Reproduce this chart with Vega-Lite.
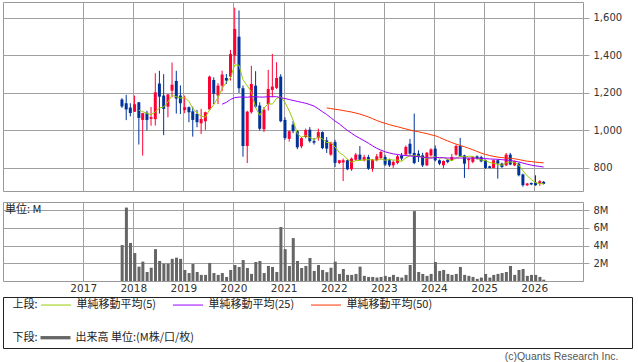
{
  "$schema": "https://vega.github.io/schema/vega-lite/v6.json",
  "padding": {"left": 2, "top": 1, "right": 0, "bottom": 0},
  "background": "white",
  "config": {
    "view": {"stroke": "#999999", "strokeWidth": 1},
    "axis": {"domain": false, "gridColor": "#a0a0a0", "gridOpacity": 1, "tickColor": "#a0a0a0", "labelColor": "#333333", "labelFont": "DejaVu Sans", "labelFontSize": 10},
    "title": {"font": "Noto Sans CJK JP", "fontWeight": "normal", "color": "#222222"},
    "legend": {"padding": 0, "titleFont": "Noto Sans CJK JP", "titleFontSize": 11, "titleFontWeight": "normal", "titleColor": "#222222", "labelFont": "Noto Sans CJK JP", "labelFontSize": 11, "labelColor": "#222222", "labelLimit": 300}
  },
  "title": {"text": "(c)Quants Research Inc.", "orient": "bottom", "anchor": "end", "font": "Liberation Sans", "fontSize": 10.5, "fontWeight": "normal", "color": "#555555", "offset": 3.5, "dx": -14},
  "datasets": {
    "m": [
      {"d":"2017-10","o":1165,"h":1172,"l":1120,"c":1128,"v":4.06},
      {"d":"2017-11","o":1145,"h":1190,"l":1055,"c":1112,"v":8.3},
      {"d":"2017-12","o":1122,"h":1145,"l":1075,"c":1093,"v":4.3},
      {"d":"2018-01","o":1100,"h":1186,"l":1098,"c":1140,"v":3.16},
      {"d":"2018-02","o":1150,"h":1152,"l":925,"c":1067,"v":1.62,"ma5":1108},
      {"d":"2018-03","o":1056,"h":1094,"l":866,"c":1092,"v":2.19,"ma5":1101},
      {"d":"2018-04","o":1094,"h":1105,"l":1000,"c":1056,"v":1.02,"ma5":1090},
      {"d":"2018-05","o":1062,"h":1125,"l":1025,"c":1071,"v":1.5,"ma5":1085},
      {"d":"2018-06","o":1060,"h":1305,"l":1026,"c":1203,"v":3.6,"ma5":1098},
      {"d":"2018-07","o":1250,"h":1318,"l":1090,"c":1180,"v":2.26,"ma5":1120},
      {"d":"2018-08","o":1186,"h":1300,"l":975,"c":1115,"v":1.96,"ma5":1125},
      {"d":"2018-09","o":1127,"h":1195,"l":1070,"c":1192,"v":1.96,"ma5":1152},
      {"d":"2018-10","o":1212,"h":1362,"l":1177,"c":1244,"v":2.5,"ma5":1187},
      {"d":"2018-11","o":1264,"h":1318,"l":1090,"c":1170,"v":2.64,"ma5":1180},
      {"d":"2018-12","o":1186,"h":1240,"l":1088,"c":1145,"v":2.5,"ma5":1173},
      {"d":"2019-01","o":1109,"h":1186,"l":1092,"c":1124,"v":1.25,"ma5":1175},
      {"d":"2019-02","o":1124,"h":1128,"l":1044,"c":1097,"v":0.9,"ma5":1156},
      {"d":"2019-03","o":1102,"h":1127,"l":967,"c":1056,"v":1.93,"ma5":1118},
      {"d":"2019-04","o":1088,"h":1109,"l":1017,"c":1044,"v":1.02,"ma5":1093},
      {"d":"2019-05","o":1038,"h":1115,"l":981,"c":1061,"v":0.69,"ma5":1076},
      {"d":"2019-06","o":1049,"h":1100,"l":1003,"c":1097,"v":0.69,"ma5":1071},
      {"d":"2019-07","o":1112,"h":1292,"l":1106,"c":1287,"v":2.04,"ma5":1109},
      {"d":"2019-08","o":1269,"h":1283,"l":1141,"c":1195,"v":0.9,"ma5":1137},
      {"d":"2019-09","o":1186,"h":1252,"l":1141,"c":1239,"v":0.69,"ma5":1176},
      {"d":"2019-10","o":1239,"h":1319,"l":1209,"c":1298,"v":0.9,"ma5":1223,"ma25":1140},
      {"d":"2019-11","o":1280,"h":1301,"l":1248,"c":1266,"v":0.46,"ma5":1257,"ma25":1150},
      {"d":"2019-12","o":1287,"h":1429,"l":1266,"c":1408,"v":1.25,"ma5":1281,"ma25":1165},
      {"d":"2020-01","o":1399,"h":1655,"l":1355,"c":1541,"v":1.81,"ma5":1350,"ma25":1175},
      {"d":"2020-02","o":1500,"h":1640,"l":1200,"c":1225,"v":1.59,"ma5":1348,"ma25":1178},
      {"d":"2020-03","o":1225,"h":1240,"l":860,"c":917,"v":2.37,"ma5":1271,"ma25":1178},
      {"d":"2020-04","o":917,"h":1105,"l":826,"c":1100,"v":1.47,"ma5":1238,"ma25":1177},
      {"d":"2020-05","o":1097,"h":1345,"l":1090,"c":1248,"v":0.8,"ma5":1206,"ma25":1180},
      {"d":"2020-06","o":1239,"h":1316,"l":1120,"c":1127,"v":2.15,"ma5":1123,"ma25":1180},
      {"d":"2020-07","o":1133,"h":1150,"l":1000,"c":1009,"v":2.26,"ma5":1080,"ma25":1178},
      {"d":"2020-08","o":1006,"h":1125,"l":992,"c":1111,"v":0.9,"ma5":1119,"ma25":1178},
      {"d":"2020-09","o":1141,"h":1323,"l":1106,"c":1221,"v":1.7,"ma5":1143,"ma25":1180},
      {"d":"2020-10","o":1216,"h":1408,"l":1177,"c":1234,"v":1.59,"ma5":1140,"ma25":1180},
      {"d":"2020-11","o":1227,"h":1364,"l":1221,"c":1280,"v":1.02,"ma5":1171,"ma25":1180},
      {"d":"2020-12","o":1287,"h":1300,"l":1044,"c":1049,"v":6.1,"ma5":1179,"ma25":1175},
      {"d":"2021-01","o":1056,"h":1070,"l":950,"c":960,"v":3.6,"ma5":1149,"ma25":1170},
      {"d":"2021-02","o":955,"h":1000,"l":940,"c":996,"v":1.7,"ma5":1104,"ma25":1165},
      {"d":"2021-03","o":1031,"h":1050,"l":985,"c":996,"v":4.85,"ma5":1056,"ma25":1160},
      {"d":"2021-04","o":996,"h":1000,"l":900,"c":910,"v":2.26,"ma5":982,"ma25":1155},
      {"d":"2021-05","o":915,"h":965,"l":905,"c":959,"v":1.47,"ma5":964,"ma25":1150},
      {"d":"2021-06","o":965,"h":1010,"l":958,"c":1002,"v":1.7,"ma5":973,"ma25":1145},
      {"d":"2021-07","o":1004,"h":1018,"l":935,"c":943,"v":2.6,"ma5":962,"ma25":1138},
      {"d":"2021-08","o":943,"h":960,"l":925,"c":935,"v":1.14,"ma5":950,"ma25":1130},
      {"d":"2021-09","o":959,"h":1010,"l":945,"c":991,"v":1.81,"ma5":966,"ma25":1115},
      {"d":"2021-10","o":991,"h":995,"l":900,"c":906,"v":1.25,"ma5":955,"ma25":1100},
      {"d":"2021-11","o":947,"h":965,"l":880,"c":903,"v":1.0,"ma5":936,"ma25":1085,"ma50":1120},
      {"d":"2021-12","o":871,"h":940,"l":865,"c":935,"v":1.5,"ma5":934,"ma25":1068,"ma50":1117},
      {"d":"2022-01","o":938,"h":950,"l":805,"c":827,"v":2.19,"ma5":912,"ma25":1050,"ma50":1113},
      {"d":"2022-02","o":827,"h":843,"l":820,"c":841,"v":0.8,"ma5":882,"ma25":1035,"ma50":1110},
      {"d":"2022-03","o":829,"h":850,"l":730,"c":841,"v":1.36,"ma5":869,"ma25":1018,"ma50":1106},
      {"d":"2022-04","o":841,"h":845,"l":788,"c":793,"v":0.69,"ma5":847,"ma25":1000,"ma50":1102},
      {"d":"2022-05","o":793,"h":855,"l":785,"c":850,"v":0.69,"ma5":830,"ma25":985,"ma50":1098},
      {"d":"2022-06","o":844,"h":880,"l":838,"c":871,"v":0.8,"ma5":839,"ma25":970,"ma50":1093},
      {"d":"2022-07","o":871,"h":917,"l":840,"c":844,"v":1.62,"ma5":840,"ma25":958,"ma50":1087},
      {"d":"2022-08","o":841,"h":870,"l":835,"c":858,"v":0.58,"ma5":843,"ma25":945,"ma50":1080},
      {"d":"2022-09","o":858,"h":870,"l":790,"c":796,"v":0.46,"ma5":844,"ma25":932,"ma50":1072},
      {"d":"2022-10","o":796,"h":848,"l":780,"c":844,"v":0.46,"ma5":843,"ma25":918,"ma50":1063},
      {"d":"2022-11","o":841,"h":875,"l":835,"c":862,"v":0.39,"ma5":841,"ma25":905,"ma50":1053},
      {"d":"2022-12","o":853,"h":890,"l":845,"c":885,"v":0.46,"ma5":849,"ma25":895,"ma50":1045},
      {"d":"2023-01","o":858,"h":870,"l":810,"c":818,"v":0.58,"ma5":841,"ma25":886,"ma50":1038},
      {"d":"2023-02","o":841,"h":850,"l":805,"c":814,"v":0.46,"ma5":845,"ma25":880,"ma50":1031},
      {"d":"2023-03","o":814,"h":840,"l":800,"c":832,"v":0.69,"ma5":842,"ma25":875,"ma50":1025},
      {"d":"2023-04","o":827,"h":870,"l":820,"c":862,"v":0.46,"ma5":842,"ma25":872,"ma50":1020},
      {"d":"2023-05","o":867,"h":880,"l":840,"c":850,"v":0.39,"ma5":835,"ma25":868,"ma50":1014},
      {"d":"2023-06","o":871,"h":920,"l":865,"c":912,"v":0.69,"ma5":854,"ma25":866,"ma50":1008},
      {"d":"2023-07","o":929,"h":955,"l":870,"c":876,"v":1.81,"ma5":866,"ma25":864,"ma50":1002},
      {"d":"2023-08","o":880,"h":1090,"l":820,"c":826,"v":7.9,"ma5":865,"ma25":862,"ma50":997},
      {"d":"2023-09","o":876,"h":894,"l":832,"c":858,"v":1.02,"ma5":864,"ma25":860,"ma50":993},
      {"d":"2023-10","o":867,"h":881,"l":805,"c":814,"v":0.8,"ma5":857,"ma25":858,"ma50":988},
      {"d":"2023-11","o":814,"h":885,"l":810,"c":881,"v":0.58,"ma5":851,"ma25":855,"ma50":983},
      {"d":"2023-12","o":867,"h":905,"l":860,"c":899,"v":0.8,"ma5":856,"ma25":852,"ma50":977},
      {"d":"2024-01","o":903,"h":920,"l":835,"c":841,"v":2.15,"ma5":859,"ma25":856,"ma50":972},
      {"d":"2024-02","o":841,"h":845,"l":815,"c":823,"v":1.14,"ma5":852,"ma25":855,"ma50":963},
      {"d":"2024-03","o":814,"h":840,"l":797,"c":837,"v":1.25,"ma5":856,"ma25":854,"ma50":953},
      {"d":"2024-04","o":844,"h":848,"l":825,"c":832,"v":0.8,"ma5":846,"ma25":853,"ma50":944},
      {"d":"2024-05","o":841,"h":875,"l":838,"c":858,"v":0.69,"ma5":838,"ma25":853,"ma50":935},
      {"d":"2024-06","o":871,"h":925,"l":865,"c":917,"v":0.8,"ma5":853,"ma25":853,"ma50":927},
      {"d":"2024-07","o":917,"h":960,"l":858,"c":864,"v":1.59,"ma5":862,"ma25":853,"ma50":920},
      {"d":"2024-08","o":867,"h":870,"l":747,"c":823,"v":0.69,"ma5":859,"ma25":853,"ma50":913},
      {"d":"2024-09","o":841,"h":853,"l":793,"c":850,"v":0.58,"ma5":862,"ma25":853,"ma50":905},
      {"d":"2024-10","o":832,"h":862,"l":825,"c":858,"v":0.46,"ma5":862,"ma25":852,"ma50":897},
      {"d":"2024-11","o":862,"h":867,"l":845,"c":850,"v":0.24,"ma5":849,"ma25":852,"ma50":888},
      {"d":"2024-12","o":858,"h":865,"l":830,"c":835,"v":0.39,"ma5":843,"ma25":852,"ma50":879},
      {"d":"2025-01","o":841,"h":845,"l":795,"c":800,"v":0.8,"ma5":839,"ma25":850,"ma50":872},
      {"d":"2025-02","o":809,"h":812,"l":798,"c":800,"v":0.39,"ma5":829,"ma25":848,"ma50":866},
      {"d":"2025-03","o":800,"h":845,"l":798,"c":841,"v":0.69,"ma5":825,"ma25":847,"ma50":862},
      {"d":"2025-04","o":841,"h":845,"l":743,"c":823,"v":0.8,"ma5":820,"ma25":846,"ma50":858},
      {"d":"2025-05","o":823,"h":828,"l":800,"c":805,"v":0.9,"ma5":814,"ma25":844,"ma50":855},
      {"d":"2025-06","o":814,"h":880,"l":810,"c":871,"v":1.02,"ma5":828,"ma25":842,"ma50":853},
      {"d":"2025-07","o":871,"h":880,"l":815,"c":818,"v":1.7,"ma5":832,"ma25":840,"ma50":851},
      {"d":"2025-08","o":814,"h":840,"l":810,"c":835,"v":0.69,"ma5":830,"ma25":836,"ma50":849},
      {"d":"2025-09","o":823,"h":830,"l":755,"c":761,"v":1.25,"ma5":815,"ma25":832,"ma50":845},
      {"d":"2025-10","o":765,"h":770,"l":700,"c":708,"v":1.36,"ma5":785,"ma25":826,"ma50":840},
      {"d":"2025-11","o":708,"h":720,"l":703,"c":717,"v":0.58,"ma5":758,"ma25":820,"ma50":836},
      {"d":"2025-12","o":720,"h":722,"l":708,"c":712,"v":0.69,"ma5":738,"ma25":815,"ma50":834},
      {"d":"2026-01","o":722,"h":761,"l":705,"c":708,"v":0.69,"ma5":722,"ma25":811,"ma50":831},
      {"d":"2026-02","o":717,"h":735,"l":705,"c":729,"v":0.46,"ma5":716,"ma25":808,"ma50":829},
      {"d":"2026-03","o":726,"h":730,"l":712,"c":715,"v":0.15,"ma5":716,"ma25":805,"ma50":827}
    ]
  },
  "resolve": {"scale": {"stroke": "shared", "fill": "shared"}, "legend": {"stroke": "shared", "fill": "shared"}},
  "spacing": 2,
  "vconcat": [
    {
      "spacing": 9,
      "resolve": {"scale": {"stroke": "shared", "fill": "shared"}, "legend": {"stroke": "shared", "fill": "shared"}},
      "vconcat": [
        {
          "width": 580,
          "height": 189,
          "data": {"name": "m"},
          "encoding": {
            "x": {"field": "d", "type": "temporal",
              "scale": {"type": "utc", "domain": [{"year": 2015, "month": 7, "date": 3, "utc": true}, {"year": 2026, "month": 11, "date": 16, "utc": true}]},
              "axis": {"values": [{"year":2017,"utc":true},{"year":2018,"utc":true},{"year":2019,"utc":true},{"year":2020,"utc":true},{"year":2021,"utc":true},{"year":2022,"utc":true},{"year":2023,"utc":true},{"year":2024,"utc":true},{"year":2025,"utc":true},{"year":2026,"utc":true}], "grid": true, "labels": false, "ticks": false, "title": null}
            }
          },
          "layer": [
            {
              "mark": {"type": "rule", "xOffset": 1.3, "strokeWidth": 1},
              "encoding": {
                "y": {"field": "l", "type": "quantitative", "scale": {"domain": [677, 1685], "nice": false, "zero": false},
                  "axis": {"orient": "right", "values": [800, 1000, 1200, 1400, 1600], "format": ",d", "grid": true, "tickSize": 6, "labelPadding": 4, "title": null}},
                "y2": {"field": "h"},
                "color": {"condition": {"test": "datum.c >= datum.o", "value": "#ff0033"}, "value": "#003399"}
              }
            },
            {
              "mark": {"type": "bar", "width": 3, "xOffset": 1.3},
              "encoding": {
                "y": {"field": "o", "type": "quantitative"},
                "y2": {"field": "c"},
                "color": {"condition": {"test": "datum.c >= datum.o", "value": "#ff0033"}, "value": "#003399"}
              }
            },
            {
              "mark": {"type": "line", "strokeWidth": 1, "xOffset": 1.3},
              "encoding": {
                "y": {"field": "ma5", "type": "quantitative"},
                "stroke": {"datum": "単純移動平均(5)", "type": "nominal",
                  "scale": {"domain": ["単純移動平均(5)", "単純移動平均(25)", "単純移動平均(50)"], "range": ["#99cc00", "#9900ff", "#ff3300"]},
                  "legend": {
                    "orient": "none", "legendX": 9.5, "legendY": 287.3,
                    "title": ["", "上段:"], "titleOrient": "left", "titleAnchor": "start", "titleBaseline": "top", "titleLineHeight": 9.5, "titlePadding": 2,
                    "direction": "horizontal", "columnPadding": 14,
                    "symbolType": "stroke", "symbolSize": 900, "symbolStrokeWidth": 1, "labelOffset": 5
                  }}
              }
            },
            {
              "mark": {"type": "line", "strokeWidth": 1, "xOffset": 1.3},
              "encoding": {
                "y": {"field": "ma25", "type": "quantitative"},
                "stroke": {"datum": "単純移動平均(25)", "type": "nominal"}
              }
            },
            {
              "mark": {"type": "line", "strokeWidth": 1, "xOffset": 1.3},
              "encoding": {
                "y": {"field": "ma50", "type": "quantitative"},
                "stroke": {"datum": "単純移動平均(50)", "type": "nominal"}
              }
            }
          ]
        },
        {
          "width": 580,
          "height": 79,
          "title": {"text": "単位: M", "anchor": "start", "offset": -13, "dx": 2, "fontSize": 11, "font": "Noto Sans CJK JP", "fontWeight": "normal", "color": "#222222"},
          "data": {"name": "m"},
          "mark": {"type": "bar", "width": 3, "xOffset": 1.5},
          "encoding": {
            "x": {"field": "d", "type": "temporal",
              "scale": {"type": "utc", "domain": [{"year": 2015, "month": 7, "date": 3, "utc": true}, {"year": 2026, "month": 11, "date": 16, "utc": true}]},
              "axis": {"values": [{"year":2017,"utc":true},{"year":2018,"utc":true},{"year":2019,"utc":true},{"year":2020,"utc":true},{"year":2021,"utc":true},{"year":2022,"utc":true},{"year":2023,"utc":true},{"year":2024,"utc":true},{"year":2025,"utc":true},{"year":2026,"utc":true}], "grid": true, "labels": true, "ticks": false, "tickSize": 0, "labelPadding": 2, "format": "%Y", "labelFontSize": 10.5, "title": null}
            },
            "y": {"field": "v", "type": "quantitative", "scale": {"domain": [0, 8.93], "nice": false},
              "axis": {"orient": "right", "values": [2, 4, 6, 8], "labelExpr": "datum.value + 'M'", "grid": true, "tickSize": 6, "labelPadding": 4, "title": null}},
            "fill": {"datum": "出来高 単位:(M株/口/枚)", "type": "nominal",
              "scale": {"domain": ["出来高 単位:(M株/口/枚)"], "range": ["#666666"]},
              "legend": {
                "orient": "none", "legendX": 9.5, "legendY": 320.7,
                "title": ["", "下段:"], "titleOrient": "left", "titleAnchor": "start", "titleBaseline": "top", "titleLineHeight": 9.5, "titlePadding": 2,
                "direction": "horizontal",
                "symbolType": "M-1,-0.11L1,-0.11L1,0.11L-1,0.11Z", "symbolSize": 900, "symbolStrokeWidth": 0, "labelOffset": 5
              }}
          }
        }
      ]
    },
    {
      "width": 629,
      "height": 51,
      "view": {"stroke": "#222222", "strokeWidth": 1},
      "data": {"values": [{}]},
      "mark": {"type": "text"},
      "encoding": {"text": {"value": ""}}
    }
  ]
}
